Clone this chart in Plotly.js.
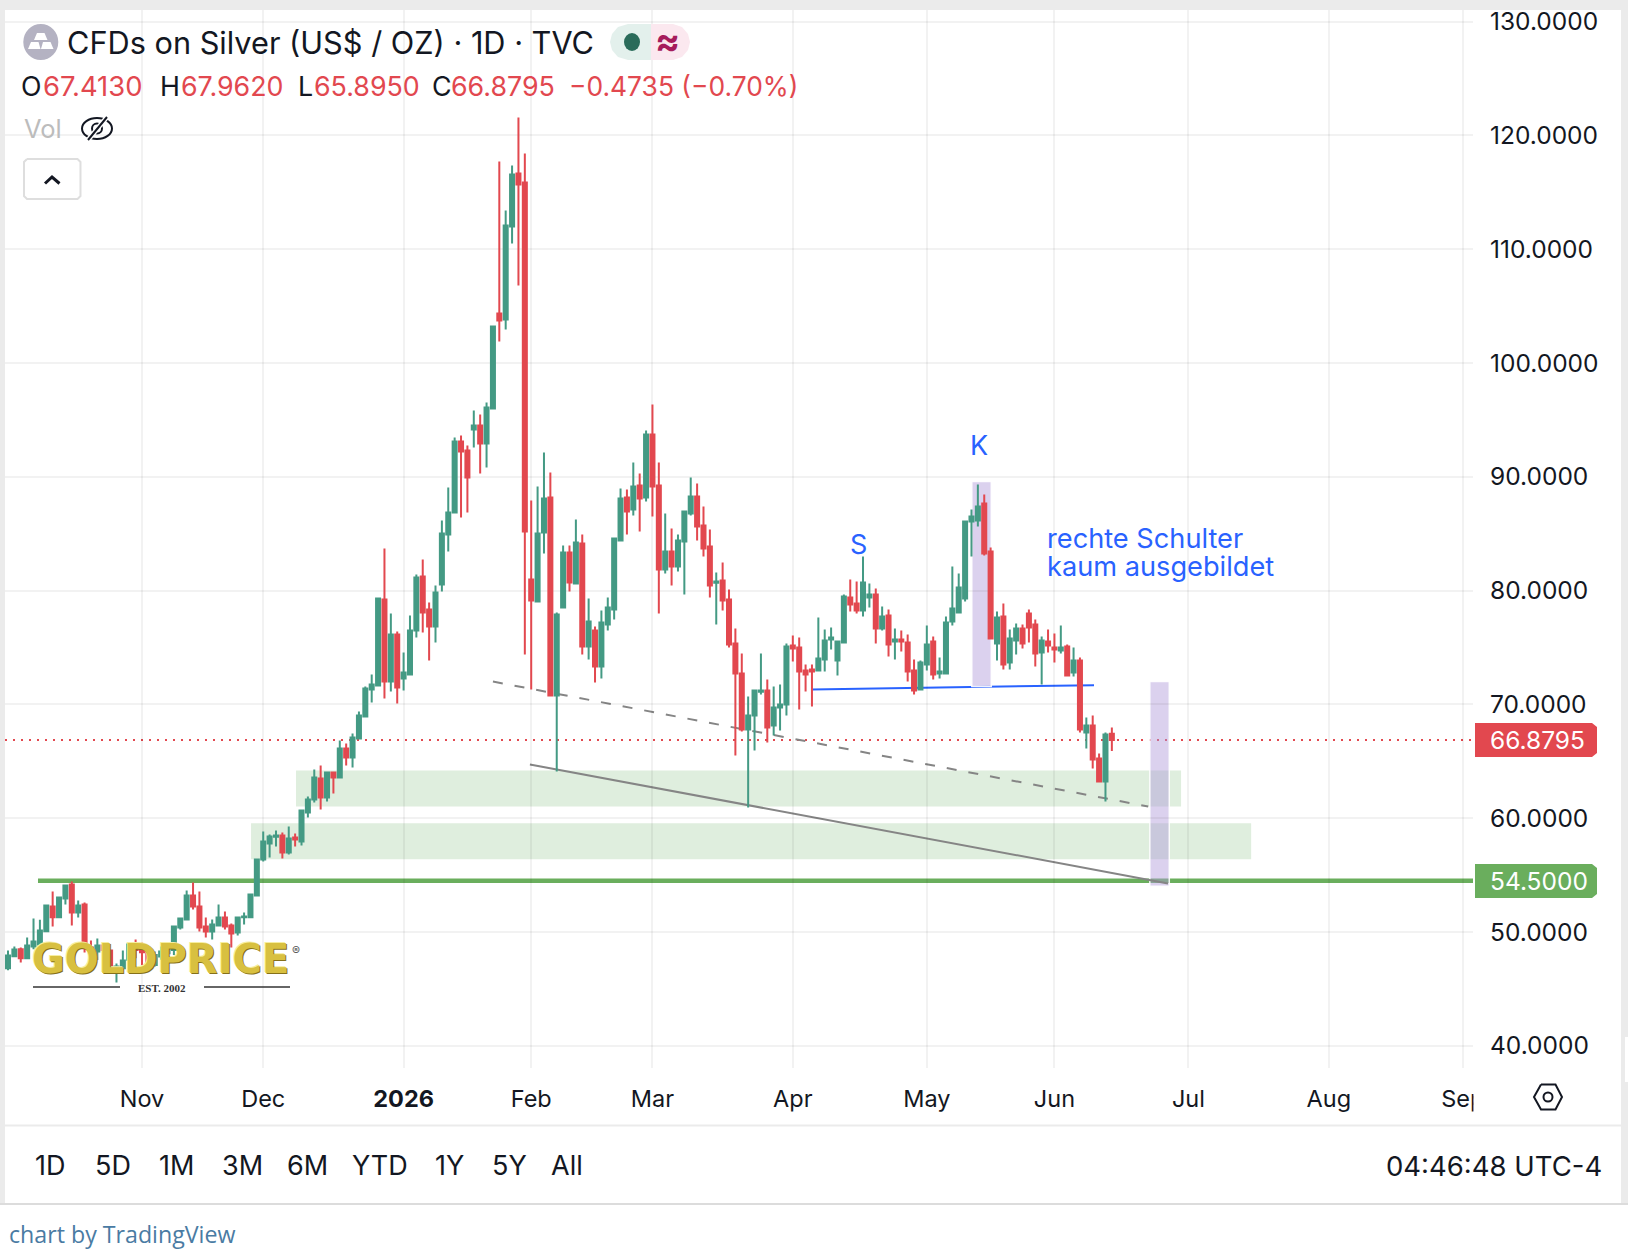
<!DOCTYPE html>
<html><head><meta charset="utf-8">
<script src="https://cdn.plot.ly/plotly-3.0.1.min.js"></script>
<style>html,body{margin:0;padding:0;background:#fff;overflow:hidden}#chart{width:1628px;height:1258px}
#chart svg text{font-variant-numeric:tabular-nums}</style>
</head><body><div id="chart"></div>
<script>
const opens=[46.82,47.88,48.49,47.70,48.73,48.90,50.07,52.24,51.30,52.94,
54.17,51.71,52.42,48.64,48.29,48.81,48.37,46.67,46.82,47.56,
48.90,48.64,48.29,47.11,47.85,48.14,48.43,50.40,51.10,53.21,
52.24,50.48,50.04,50.57,51.27,50.57,49.96,51.30,51.30,53.21,
56.37,57.78,58.36,58.48,56.99,58.30,57.95,60.50,61.65,63.49,
61.82,64.02,63.58,66.13,65.34,67.00,68.94,71.31,71.66,79.22,
72.01,76.14,72.28,72.63,76.49,81.24,78.34,76.85,80.54,84.93,
86.87,93.10,92.31,94.16,94.51,92.93,96.00,104.35,103.82,112.00,
116.65,115.86,80.98,79.05,85.11,88.18,70.79,78.52,83.35,80.63,
84.14,75.09,76.50,73.33,77.03,78.34,84.41,88.18,87.13,89.24,
88.18,93.72,89.24,81.86,83.44,82.12,84.32,86.78,88.27,85.72,
83.88,80.69,80.89,79.22,75.36,72.72,67.80,69.03,71.11,71.23,
68.15,69.73,69.99,75.17,75.00,72.98,73.07,72.98,73.94,75.70,
73.86,75.44,79.39,78.86,78.25,79.39,79.66,76.67,77.81,75.52,
75.70,75.44,72.98,71.31,73.50,75.52,72.71,72.71,77.28,78.07,
79.30,86.07,86.16,87.65,83.43,75.35,77.72,73.68,75.61,76.67,
77.99,77.02,74.56,75.53,75.00,74.74,75.09,72.80,73.86,67.53,
68.14,65.25,63.22,67.413];
const highs=[48.37,48.73,48.64,49.52,51.19,51.07,52.42,53.56,53.12,54.17,
54.44,52.77,52.59,49.25,49.43,48.99,48.37,47.23,48.37,48.99,
49.34,49.08,48.58,48.29,48.73,48.73,50.57,51.19,53.65,54.35,
53.56,51.27,51.10,52.42,51.80,50.75,51.36,51.71,53.38,56.46,
58.83,58.57,58.92,58.74,59.27,58.66,60.77,61.91,64.28,64.63,
64.10,64.10,66.83,66.57,67.44,69.38,71.57,72.63,79.31,83.70,
77.99,76.41,74.56,77.81,81.42,82.73,78.95,80.45,86.16,89.06,
93.46,93.63,92.75,95.83,95.48,96.53,103.21,117.71,113.40,117.36,
121.57,118.41,87.92,89.15,92.14,90.38,78.08,83.97,83.97,86.25,
84.93,79.31,76.85,78.26,79.40,84.67,88.98,88.89,91.26,90.29,
94.07,96.36,91.26,86.78,85.46,84.93,87.04,89.94,89.41,87.39,
85.37,81.59,82.47,80.10,76.67,74.48,70.70,71.23,74.48,72.19,
71.58,71.75,75.35,76.05,75.88,73.50,73.50,77.63,76.58,76.76,
75.61,79.66,80.97,80.80,83.00,80.62,80.18,78.60,78.34,76.67,
76.49,76.14,73.94,73.86,76.93,75.96,74.12,77.72,82.11,81.50,
86.16,87.12,89.32,88.44,83.79,78.16,78.87,76.58,77.11,77.02,
78.34,77.46,75.97,76.58,76.23,76.93,75.26,75.00,74.12,68.85,
69.02,65.68,67.53,67.962];
const lows=[46.65,47.82,47.32,47.70,48.49,48.81,50.07,50.48,51.30,52.42,
50.57,51.27,48.20,47.41,47.55,47.11,46.67,45.56,46.67,47.41,
47.70,47.11,46.82,46.97,47.56,47.70,47.99,50.22,51.10,51.98,
50.04,49.52,49.34,50.48,50.22,48.64,49.69,50.66,51.30,53.21,
56.20,56.55,57.51,56.46,56.81,57.51,57.60,60.06,61.38,60.77,
61.47,62.17,63.58,64.63,64.46,67.00,68.85,70.17,71.66,70.52,
71.13,70.08,71.22,72.63,75.88,76.32,73.86,75.44,79.92,83.44,
86.87,86.43,86.87,92.58,90.29,90.82,96.00,101.89,102.95,110.50,
106.81,74.39,71.31,79.05,83.26,70.79,64.11,78.52,79.93,80.63,
74.39,73.95,71.93,72.28,76.50,77.46,84.41,84.93,86.60,85.20,
87.83,86.51,77.99,81.51,80.45,81.68,79.66,86.60,84.41,82.99,
79.40,77.03,78.26,75.00,65.51,67.62,60.94,65.95,70.87,66.66,
67.27,67.71,69.02,73.77,69.55,71.13,69.81,72.98,72.89,74.82,
72.54,75.35,78.16,77.99,77.72,78.51,75.35,76.49,74.21,73.94,
74.65,72.01,70.87,71.22,72.98,72.19,72.27,72.63,76.93,78.07,
79.04,82.99,85.63,83.08,75.70,73.86,73.07,73.07,74.38,74.91,
75.44,73.33,71.75,74.56,73.68,74.47,72.54,72.45,67.53,66.12,
64.37,63.22,61.47,65.895];
const closes=[47.94,48.46,47.70,48.81,49.17,50.13,52.33,51.30,53.03,54.09,
51.71,52.33,48.58,48.14,48.81,48.43,46.68,46.97,47.50,48.90,
48.43,48.23,47.06,47.99,48.29,48.43,50.48,51.19,53.21,52.24,
50.40,50.04,50.66,51.27,50.48,49.87,51.27,51.36,53.30,56.37,
57.95,58.39,58.48,56.99,58.22,58.13,60.68,61.64,63.58,61.82,
64.02,63.58,66.13,65.34,67.09,69.03,71.40,71.75,79.31,72.01,
76.14,71.49,72.80,76.49,81.15,78.08,76.85,79.83,85.02,86.87,
93.10,92.23,89.94,94.51,92.93,96.09,103.21,103.74,112.08,116.57,
115.69,85.20,79.13,85.02,88.10,70.79,77.90,83.35,80.72,84.23,
75.09,77.29,73.33,77.20,78.52,84.58,88.10,86.95,89.15,88.10,
93.72,89.15,81.86,83.44,82.12,84.41,86.95,88.27,85.64,83.70,
80.45,80.80,79.13,75.27,72.72,67.80,69.03,71.23,71.23,67.97,
69.73,70.00,75.09,74.91,72.89,72.63,72.89,74.03,75.61,75.88,
75.52,79.48,78.78,78.25,80.71,79.66,76.67,77.72,75.26,75.70,
75.52,72.89,71.22,73.68,75.26,72.63,72.89,77.20,78.43,80.27,
86.07,86.51,87.39,83.26,75.79,77.63,73.51,75.79,76.67,75.35,
76.76,74.47,75.61,75.17,74.82,75.00,72.54,73.86,67.79,68.14,
65.16,63.22,67.35,66.8795];
const monthTickPos=[21,40,62,82,101,123,144,164,185,207,228];
const monthTickText=['Nov','Dec','<b>2026</b>','Feb','Mar','Apr','May','Jun','Jul','Aug','Sep'];
const priceTicks=[40,50,60,70,80,90,100,110,120,130];
const lastPrice=66.8795, supportPrice=54.5;
const rangeButtons=[['1D',34],['5D',94],['1M',158],['3M',221],['6M',286],['YTD',351],['1Y',434],['5Y',491],['All',550]];

const GREEN='#449a84', RED='#e2484f', BLUE='#2962ff', INK='#131722';
const FONT='Inter, "Liberation Sans", sans-serif';
const PX=x=>(x-5)/1468, PY=y=>1-(y-10)/1058;
const path=pts=>pts.map((p,i)=>(i?'L':'M')+PX(p[0]).toFixed(5)+' '+PY(p[1]).toFixed(5)).join(' ');

const trace={type:'candlestick',x:opens.map((_,i)=>i),open:opens,high:highs,low:lows,close:closes,
  increasing:{line:{color:GREEN,width:2},fillcolor:GREEN},
  decreasing:{line:{color:RED,width:2},fillcolor:RED},
  hoverinfo:'skip',showlegend:false};

const dataShape=(o)=>Object.assign({xref:'x',yref:'y',layer:'below'},o);
const zoneFill='rgba(80,160,70,0.18)', purple='rgba(175,152,218,0.45)';
const shapes=[
  dataShape({type:'line',x0:-0.47,x1:229.6,y0:lastPrice,y1:lastPrice,line:{color:RED,width:2,dash:'2px,6px'}}),
  dataShape({type:'rect',x0:45.14,x1:183.85,y0:61.03,y1:64.19,fillcolor:zoneFill,line:{width:0}}),
  dataShape({type:'rect',x0:38.09,x1:194.83,y0:56.40,y1:59.56,fillcolor:zoneFill,line:{width:0}}),
  dataShape({type:'line',x0:4.7,x1:229.6,y0:supportPrice,y1:supportPrice,line:{color:'#6aae5d',width:4.5}}),
  dataShape({type:'line',x0:126,x1:170.2,y0:71.31,y1:71.69,line:{color:BLUE,width:2}}),
  dataShape({type:'line',x0:76,x1:178.7,y0:72.01,y1:61.03,line:{color:'#858585',width:2,dash:'10px,12px'}}),
  dataShape({type:'rect',x0:151.05,x1:154.1,y0:71.57,y1:89.59,fillcolor:purple,line:{color:'rgba(255,255,255,0.9)',width:1.5}}),
  dataShape({type:'rect',x0:178.95,x1:182.0,y0:54.01,y1:72.01,fillcolor:purple,line:{color:'rgba(255,255,255,0.9)',width:1.5}}),
  dataShape({type:'line',x0:81.8,x1:181.8,y0:64.72,y1:54.27,line:{color:'#858585',width:2}})
];
const pg=(o)=>Object.assign({xref:'paper',yref:'paper'},o);
const rectPx=(x0,y0,x1,y1,fill,layer)=>pg({type:'rect',x0:PX(x0),x1:PX(x1),y0:PY(y0),y1:PY(y1),fillcolor:fill,line:{width:0},layer:layer||'above'});
const linePx=(x0,y0,x1,y1,color,w,layer)=>pg({type:'line',x0:PX(x0),x1:PX(x1),y0:PY(y0),y1:PY(y1),line:{color:color,width:w},layer:layer||'above'});
const circPx=(cx,cy,rx,ry,fill,line)=>pg({type:'circle',x0:PX(cx-rx),x1:PX(cx+rx),y0:PY(cy-ry),y1:PY(cy+ry),fillcolor:fill,line:line||{width:0},layer:'above'});
const pathPx=(pts,fill,line)=>pg({type:'path',path:path(pts)+(fill?' Z':''),fillcolor:fill||'rgba(0,0,0,0)',line:line||{width:0},layer:'above'});
shapes.push(
  rectPx(0,0,1628,10,'#ebebeb'),rectPx(0,0,5,1204,'#ebebeb'),rectPx(1621,0,1628,1204,'#ebebeb'),
  rectPx(1625,1037,1628,1082,'#ffffff'),
  rectPx(1473.5,1072,1505,1122,'#ffffff'),
  linePx(5,1125.5,1621,1125.5,'#ebebeb',2),
  linePx(0,1204,1628,1204,'#dcdcdc',2),
  // symbol icon
  circPx(40.8,42,17.5,18,'#b4b2c2'),
  pathPx([[37,33],[44.5,33],[47.5,40],[34,40]],'#ffffff'),
  pathPx([[31,42],[38.5,42],[40.5,49],[28,49]],'#ffffff'),
  pathPx([[43,42],[50.5,42],[53.5,49],[41,49]],'#ffffff'),
  // status pills
  pathPx([[651,24],[628,24],[618,27],[612,34],[610,42],[612,50],[618,57],[628,60],[651,60]],'#e3f0ec'),
  pathPx([[651,24],[673,24],[682,27],[688,34],[690,42],[688,50],[682,57],[673,60],[651,60]],'#fbe8ef'),
  circPx(632,42,8,9,'#2a6b5a'),
  // Vol eye icon
  circPx(97,128.5,15,10.5,'rgba(0,0,0,0)',{color:INK,width:2}),
  circPx(97,128.5,5,5,'rgba(0,0,0,0)',{color:INK,width:2}),
  linePx(88,140,107,117,'#ffffff',5),linePx(88,140,107,117,INK,2),
  // collapse button
  pathPx([[27,159],[77.5,159],[80.5,162],[80.5,196],[77.5,199],[27,199],[24,196],[24,162],[27,159]],null,{color:'#dedede',width:2}),
  pathPx([[45,183.5],[52,177],[59.5,183.5]],null,{color:INK,width:3}),
  // price tags
  pathPx([[1475,723],[1592,723],[1597,727],[1597,753],[1592,757],[1475,757]],RED),
  pathPx([[1475,864],[1592,864],[1597,868],[1597,894],[1592,898],[1475,898]],'#6aae5d'),
  // settings hexagon
  pathPx([[1541,1084.5],[1555.5,1084.5],[1562,1097],[1555.5,1109.5],[1541,1109.5],[1534,1097],[1541,1084.5]],null,{color:INK,width:2}),
  circPx(1548,1097,4.5,4.5,'rgba(0,0,0,0)',{color:INK,width:2}),
  // logo rules
  linePx(33,987,120,987,'#333333',1.5),linePx(204,987,290,987,'#333333',1.5)
);
const ann=(text,x,y,size,color,extra)=>Object.assign({text:text,xref:'paper',yref:'paper',x:PX(x),y:PY(y),
  xanchor:'left',yanchor:'middle',showarrow:false,borderpad:0,font:{family:FONT,size:size,color:color}},extra||{});
const annotations=[
  ann('CFDs on Silver (US$ / OZ) · 1D · TVC',66,43,30.7,INK),
  ann('≈',654,41,37,'#a61c5c',{font:{family:FONT,size:37,color:'#a61c5c',weight:700}}),
  ann('O',20,86,26.8,INK),ann('67.4130',42,86,27.4,RED),
  ann('H',159,86,26.8,INK),ann('67.9620',180,86,26.8,RED),
  ann('L',297,86,26.8,INK),ann('65.8950',313,86,26.8,RED),
  ann('C',431,86,26.8,INK),ann('66.8795',450,86,26.8,RED),
  ann('−0.4735 (−0.70%)',568,86,26.4,RED),
  ann('Vol',22.5,129,25.5,'#bcbcbc'),
  ann('66.8795',1489,740,24.5,'#ffffff'),
  ann('54.5000',1489,881,24.5,'#ffffff'),
  ann('S',849,544.5,27,BLUE),
  ann('K',969,445,27,BLUE),
  ann('rechte Schulter',1046,538.5,27.2,BLUE),
  ann('kaum ausgebildet',1046,566.5,27.2,BLUE),
  ann('04:46:48 UTC-4',1385,1165.5,27.5,INK),
  ann('chart by TradingView',7.5,1234,23.2,'#4a7ba3',{font:{family:'"Open Sans", sans-serif',size:23.2,color:'#4a7ba3'}}),
  ann('GOLDPRICE',31,958.5,40,'#d8c040',{font:{family:'"DejaVu Sans", sans-serif',size:40,color:'#d8c040',weight:700,shadow:'1px 1px 0 #85701a, -1px -1px 0 #f6eea0'}}),
  ann('®',291,950,12,'#555555'),
  ann('EST. 2002',137,987.5,11,'#333333',{font:{family:'"Liberation Serif", serif',size:11,color:'#333333',weight:700}})
];
rangeButtons.forEach(b=>annotations.push(ann(b[0],b[1],1165.5,27,INK)));

const layout={width:1628,height:1258,margin:{l:5,r:155,t:10,b:190,pad:0},
  paper_bgcolor:'#ffffff',plot_bgcolor:'#ffffff',showlegend:false,dragmode:false,boxgap:0.37,boxgroupgap:0,
  xaxis:{type:'linear',range:[-0.47,229.6],fixedrange:true,rangeslider:{visible:false},tickmode:'array',tickvals:monthTickPos,ticktext:monthTickText,
    showgrid:true,gridcolor:'rgba(20,20,20,0.055)',gridwidth:2,zeroline:false,showline:false,ticks:'',ticklabelstandoff:14,tickangle:0,
    tickfont:{family:FONT,size:23.5,color:INK}},
  yaxis:{side:'right',range:[38.05,131.02],fixedrange:true,tickmode:'array',tickvals:priceTicks,tickformat:'.4f',
    showgrid:true,gridcolor:'rgba(20,20,20,0.055)',gridwidth:2,zeroline:false,showline:false,ticks:'',ticklabelstandoff:16,
    tickfont:{family:FONT,size:24.5,color:INK}},
  shapes:shapes,annotations:annotations};
Plotly.newPlot('chart',[trace],layout,{displayModeBar:false,staticPlot:true});
</script></body></html>
